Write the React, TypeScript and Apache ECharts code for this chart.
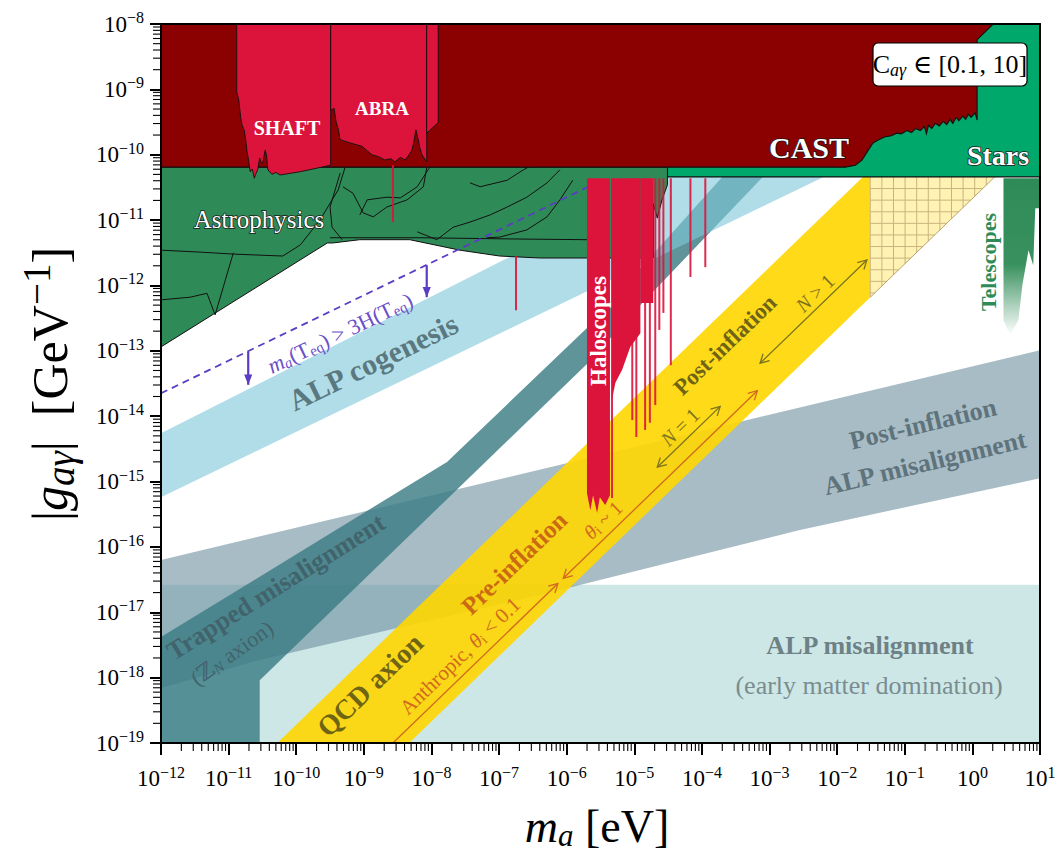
import React, { useEffect, useRef } from "react";
import * as echarts from "echarts";

type P = [number, number];

// ---------- axes (log10 units) ----------
const X_MIN = -12;
const X_MAX = 1;
const Y_MIN = -19;
const Y_MAX = -8;

// ---------- regions: [log10(m_a / eV), log10(|g| / GeV^-1)] ----------
const CAST_REGION: P[] = [
  [-12, -8], [0.31, -8], [0.07, -8.24], [0.07, -9.47], [0.04, -9.36], [-0.02, -9.43], [-0.06, -9.38],
  [-0.1, -9.46], [-0.14, -9.41], [-0.2, -9.48], [-0.24, -9.43], [-0.29, -9.52], [-0.33, -9.46], [-0.38, -9.54],
  [-0.43, -9.49], [-0.49, -9.56], [-0.55, -9.52], [-0.6, -9.6], [-0.65, -9.55], [-0.68, -9.68], [-0.71, -9.57],
  [-0.77, -9.63], [-0.84, -9.6], [-0.9, -9.66], [-0.97, -9.63], [-1.05, -9.68], [-1.12, -9.67], [-1.2, -9.71],
  [-1.3, -9.73], [-1.4, -9.78], [-1.47, -9.82], [-1.54, -9.93], [-1.63, -10.08], [-1.73, -10.16],
  [-1.88, -10.19], [-12, -10.19],
];
const STARS_REGION: P[] = [[-4.51, -8], [1, -8], [1, -10.34], [-4.51, -10.34]];
const ASTRO_REGION: P[] = [
  [-12, -10.19], [-4.51, -10.19], [-4.51, -10.46], [-4.59, -10.69], [-4.66, -10.97], [-4.72, -10.75],
  [-4.72, -11.58], [-5.7, -11.58], [-6.39, -11.58], [-6.99, -11.55], [-7.58, -11.46], [-8.32, -11.3],
  [-9.06, -11.3], [-9.46, -11.35], [-9.54, -11.35], [-12, -12.94],
];
const ASTRO_LINES: P[][] = [
  [[-12, -11.46], [-11.42, -11.49], [-10.93, -11.52], [-10.2, -11.55], [-9.94, -11.38], [-9.65, -11.0], [-9.38, -10.54], [-9.28, -10.2]],
  [[-12, -12.22], [-11.57, -12.18], [-11.32, -12.12], [-11.2, -12.45], [-10.93, -11.5]],
  [[-9.5, -11.27], [-8.17, -11.27], [-6.69, -11.29], [-5.7, -11.3]],
  [[-9.35, -10.28], [-9.5, -10.8], [-9.47, -11.11], [-9.32, -11.3]],
  [[-9.31, -10.49], [-9.16, -10.59], [-9.01, -10.89], [-8.86, -10.95], [-8.66, -10.8], [-8.36, -10.69], [-8.12, -10.49], [-8.07, -10.2]],
  [[-9.06, -10.92], [-8.95, -10.69], [-8.66, -10.65], [-8.46, -10.66], [-8.21, -10.49], [-8.05, -10.23], [-8.02, -10.19]],
  [[-8.21, -11.18], [-7.92, -11.3], [-7.68, -11.11], [-7.43, -11.03], [-7.13, -10.92], [-6.88, -10.8], [-6.59, -10.65], [-6.29, -10.43], [-6.1, -10.23]],
  [[-7.43, -10.43], [-7.28, -10.49], [-6.88, -10.39], [-6.64, -10.23], [-6.44, -10.12]],
  [[-5.91, -10.39], [-6.1, -10.69], [-6.29, -10.95], [-6.59, -11.15], [-6.99, -11.26], [-7.18, -11.27]],
];
const SHAFT_REGION: P[] = [
  [-10.88, -8], [-9.49, -8], [-9.49, -10.16], [-9.94, -10.26], [-10.24, -10.31], [-10.3, -10.27], [-10.36, -10.3],
  [-10.42, -10.23], [-10.44, -10.0], [-10.46, -9.93], [-10.49, -10.1], [-10.51, -10.14], [-10.54, -10.05], [-10.57, -10.23],
  [-10.6, -10.3], [-10.62, -10.36], [-10.65, -10.22], [-10.68, -10.26], [-10.71, -10.05], [-10.73, -9.93],
  [-10.75, -9.75], [-10.77, -9.62], [-10.8, -9.55], [-10.82, -9.44], [-10.85, -9.16], [-10.88, -9.04],
];
const ABRA_REGION: P[] = [
  [-9.49, -8], [-8.07, -8], [-8.07, -10.11], [-8.11, -10.05], [-8.14, -10.0], [-8.17, -9.9], [-8.2, -9.75], [-8.23, -9.62],
  [-8.26, -9.8], [-8.29, -9.93], [-8.33, -10.0], [-8.39, -10.08], [-8.46, -10.04], [-8.54, -10.11], [-8.6, -10.06],
  [-8.69, -10.08], [-8.78, -10.03], [-8.88, -10.0], [-9.03, -9.87], [-9.2, -9.82], [-9.35, -9.77], [-9.38, -9.6],
  [-9.41, -9.5], [-9.44, -9.29], [-9.49, -9.32],
];
const ABRA_EDGE: P[] = [[-8.07, -8], [-7.9, -8], [-7.9, -9.51], [-8.07, -9.67]];
const HALO_STRIPS: P[][] = [
  [[-5.7, -10.36], [-5.36, -10.36], [-5.36, -15.21], [-5.43, -15.36], [-5.51, -15.24], [-5.55, -15.48], [-5.61, -15.21], [-5.65, -15.44], [-5.7, -15.18]],
  [[-5.33, -10.36], [-4.91, -10.36], [-4.91, -12.73], [-5.06, -12.94], [-5.18, -13.29], [-5.28, -13.49], [-5.33, -13.75]],
  [[-4.91, -10.36], [-4.72, -10.36], [-4.72, -12.27], [-4.91, -12.27]],
];
// [mass, top coupling, bottom coupling]
const HALO_LINES: [number, number, number][] = [
  [-8.57, -10.16, -11.03], [-6.75, -11.55, -12.38], [-5.33, -10.36, -15.25], [-5.03, -10.36, -14.06],
  [-4.97, -10.36, -14.32], [-4.84, -10.36, -14.21], [-4.77, -10.36, -14.1], [-4.69, -10.36, -13.83],
  [-4.63, -10.36, -12.68], [-4.57, -10.36, -12.42], [-4.46, -10.36, -13.22], [-4.17, -10.36, -11.87],
  [-3.95, -10.36, -11.72],
];
const TELESCOPES: P[] = [
  [0.46, -10.36], [1, -10.36], [1, -10.82], [0.93, -10.82], [0.9, -11.69], [0.83, -11.46], [0.74, -11.99],
  [0.68, -12.53], [0.56, -12.76], [0.46, -12.53], [0.46, -11.46],
];
const EMD_BOX: P[] = [[-12, -16.58], [1, -16.58], [1, -19], [-12, -19]];
const POST_ALP_BAND: P[] = [
  [-12, -16.2], [1, -12.99], [1, -14.95], [-2.55, -15.74], [-6.1, -16.66], [-10.54, -17.73], [-12, -18.16],
];
const COGENESIS_BAND: P[] = [[-12, -14.26], [-4.5, -10.34], [-2.2, -10.34], [-12, -15.24]];
const TRAPPED_BAND: P[] = [
  [-12, -17.38], [-7.77, -14.7], [-5.7, -12.65], [-3.7, -10.34], [-3.1, -10.34], [-4.91, -12.3],
  [-5.7, -13.2], [-10.54, -18.04], [-10.54, -19], [-12, -19],
];
const QCD_BAND: P[] = [[-10.28, -19], [-1.62, -10.34], [-1.51, -10.34], [-1.51, -12.18], [-8.33, -19]];
const QCD_HATCH: P[] = [[-1.51, -10.34], [0.33, -10.34], [-1.51, -12.18]];
const TEQ_LINE: P[] = [[-12, -13.65], [-5.7, -10.5]];
const TEQ_ARROWS: P[][] = [
  [[-10.71, -13.01], [-10.71, -13.52]],
  [[-8.07, -11.69], [-8.07, -12.18]],
];
const ANTHROPIC_ARROW: P[] = [[-8.57, -19.0], [-6.13, -16.56]];
const THETA1_ARROW: P[] = [[-6.05, -16.48], [-3.18, -13.61]];
const N1_ARROW: P[] = [[-4.66, -14.78], [-3.73, -13.85]];
const NGT1_ARROW: P[] = [[-3.14, -13.19], [-1.56, -11.61]];

const SERIF = "'Liberation Serif','DejaVu Serif',serif";

const base = (z: number, clip = true) => ({
  type: "custom" as const,
  coordinateSystem: "cartesian2d",
  xAxisIndex: 0,
  yAxisIndex: 0,
  silent: true,
  clip,
  z,
  data: [[X_MIN, Y_MIN]],
});

const polySeries = (polys: P[][], style: any, z: number) => ({
  ...base(z),
  renderItem: (_p: any, api: any) => ({
    type: "group",
    children: polys.map((pts) => ({
      type: "polygon",
      shape: { points: pts.map((p) => api.coord(p)) },
      style,
    })),
  }),
});

const lineSeries = (lines: P[][], style: any, z: number) => ({
  ...base(z),
  renderItem: (_p: any, api: any) => ({
    type: "group",
    children: lines.map((pts) => ({
      type: "polyline",
      shape: { points: pts.map((p) => api.coord(p)) },
      style: { fill: "none", ...style },
    })),
  }),
});

function headEl(tip: number[], from: number[], size: number, color: string, lw: number, filled: boolean) {
  const dx = tip[0] - from[0];
  const dy = tip[1] - from[1];
  const L = Math.hypot(dx, dy) || 1;
  const ux = dx / L;
  const uy = dy / L;
  const a = filled ? 0.38 : 0.5;
  const c = Math.cos(a);
  const s = Math.sin(a);
  const p1 = [tip[0] + size * (-ux * c + uy * s), tip[1] + size * (-ux * s - uy * c)];
  const p2 = [tip[0] + size * (-ux * c - uy * s), tip[1] + size * (ux * s - uy * c)];
  return filled
    ? { type: "polygon", shape: { points: [p1, tip, p2] }, style: { fill: color } }
    : { type: "polyline", shape: { points: [p1, tip, p2] }, style: { stroke: color, lineWidth: lw, fill: "none" } };
}

const arrowSeries = (
  arrows: P[][], color: string, lw: number, start: boolean, end: boolean, size: number, filled: boolean, z: number
) => ({
  ...base(z),
  renderItem: (_p: any, api: any) => {
    const children: any[] = [];
    arrows.forEach((pts) => {
      const a = api.coord(pts[0]);
      const b = api.coord(pts[1]);
      children.push({ type: "line", shape: { x1: a[0], y1: a[1], x2: b[0], y2: b[1] }, style: { stroke: color, lineWidth: lw } });
      if (end) children.push(headEl(b, a, size, color, lw, filled));
      if (start) children.push(headEl(a, b, size, color, lw, filled));
    });
    return { type: "group", children };
  },
});

const hatchSeries = (z: number) => ({
  ...base(z),
  renderItem: (_p: any, api: any) => {
    const A = api.coord(QCD_HATCH[0]);
    const B = api.coord(QCD_HATCH[1]);
    const C = api.coord(QCD_HATCH[2]);
    const step = 11.6;
    const children: any[] = [
      { type: "polygon", shape: { points: [A, B, C] }, style: { fill: "#FFF2B3" } },
    ];
    const ls = { stroke: "#C9B47E", lineWidth: 1 };
    for (let x = A[0]; x < B[0] - 0.5; x += step) {
      const yEnd = A[1] + ((C[1] - A[1]) * (B[0] - x)) / (B[0] - A[0]);
      children.push({ type: "line", shape: { x1: x, y1: A[1], x2: x, y2: yEnd }, style: ls });
    }
    for (let y = A[1] + step; y < C[1] - 0.5; y += step) {
      const xEnd = B[0] - ((B[0] - A[0]) * (y - A[1])) / (C[1] - A[1]);
      children.push({ type: "line", shape: { x1: A[0], y1: y, x2: xEnd, y2: y }, style: ls });
    }
    children.push({ type: "line", shape: { x1: B[0], y1: B[1], x2: C[0], y2: C[1] }, style: { stroke: "#B8A36E", lineWidth: 1 } });
    return { type: "group", children };
  },
});

const haloLineSeries = (z: number) => ({
  ...base(z),
  renderItem: (_p: any, api: any) => ({
    type: "group",
    children: HALO_LINES.map(([m, top, bot]) => {
      const a = api.coord([m, top]);
      const b = api.coord([m, bot]);
      return {
        type: "line",
        shape: { x1: a[0], y1: a[1], x2: b[0], y2: b[1] },
        style: { stroke: "rgba(220,20,60,0.9)", lineWidth: 2 },
      };
    }),
  }),
});

const minorX: number[] = [];
for (let d = X_MIN; d < X_MAX; d++) for (let k = 2; k <= 9; k++) minorX.push(d + Math.log10(k));
const minorY: number[] = [];
for (let d = Y_MIN; d < Y_MAX; d++) for (let k = 2; k <= 9; k++) minorY.push(d + Math.log10(k));

const minorTickSeries = () => [
  {
    type: "custom",
    coordinateSystem: "cartesian2d",
    silent: true,
    clip: false,
    z: 60,
    data: minorX.map((v) => [v, Y_MIN]),
    renderItem: (_p: any, api: any) => {
      const c = api.coord([api.value(0), Y_MIN]);
      return { type: "line", shape: { x1: c[0], y1: c[1], x2: c[0], y2: c[1] + 8 }, style: { stroke: "#000", lineWidth: 1.1 } };
    },
  },
  {
    type: "custom",
    coordinateSystem: "cartesian2d",
    silent: true,
    clip: false,
    z: 60,
    data: minorY.map((v) => [X_MIN, v]),
    renderItem: (_p: any, api: any) => {
      const c = api.coord([X_MIN, api.value(1)]);
      return { type: "line", shape: { x1: c[0] - 8, y1: c[1], x2: c[0], y2: c[1] }, style: { stroke: "#000", lineWidth: 1.1 } };
    },
  },
];

const fmtPow = (v: number) => `10{s|${v < 0 ? "−" : ""}${Math.abs(v)}}`;

type TxtOpt = {
  size: number;
  color: string;
  bold?: boolean;
  rot?: number;
  stroke?: string;
  lw?: number;
  sub?: number;
};
const txt = (x: number, y: number, text: string, o: TxtOpt) => {
  const ss = Math.round(o.size * (o.sub || 0.68));
  return {
    type: "text",
    x,
    y,
    rotation: ((o.rot || 0) * Math.PI) / 180,
    z: 100,
    silent: true,
    style: {
      text,
      x: 0,
      y: 0,
      align: "center",
      verticalAlign: "middle",
      fontFamily: SERIF,
      fontSize: o.size,
      fontWeight: o.bold ? "bold" : "normal",
      fill: o.color,
      stroke: o.stroke,
      lineWidth: o.lw || 0,
      rich: {
        i: { fontStyle: "italic", fontSize: o.size, fontFamily: SERIF, fill: o.color, fontWeight: o.bold ? "bold" : "normal" },
        s: { fontSize: ss, fontStyle: "italic", fontFamily: SERIF, fill: o.color, padding: [Math.round(o.size * 0.42), 0, 0, 0] },
        r: { fontSize: ss, fontFamily: SERIF, fill: o.color, padding: [Math.round(o.size * 0.42), 0, 0, 0] },
        p: { fontSize: ss, fontFamily: SERIF, fill: o.color, padding: [0, 0, Math.round(o.size * 0.55), 0] },
      },
    },
  };
};

export default function App() {
  const ref = useRef<HTMLDivElement>(null);
  useEffect(() => {
    if (!ref.current) return;
    const chart = echarts.init(ref.current, null, { renderer: "svg" });

    const axisLabel = {
      fontFamily: SERIF,
      fontSize: 23,
      color: "#000",
      formatter: (v: number) => fmtPow(Math.round(v)),
      rich: { s: { fontFamily: SERIF, fontSize: 16, color: "#000", padding: [0, 0, 13, 0] } },
    };

    const option: any = {
      animation: false,
      backgroundColor: "#fff",
      grid: { left: 161, right: 24, top: 24, bottom: 115, containLabel: false },
      xAxis: [
        {
          type: "value", min: X_MIN, max: X_MAX, interval: 1, position: "bottom", z: 50,
          axisLine: { show: true, onZero: false, lineStyle: { color: "#000", width: 2 } },
          axisTick: { show: true, length: 12, lineStyle: { color: "#000", width: 2 } },
          splitLine: { show: false },
          axisLabel: { ...axisLabel, margin: 21 },
        },
        {
          type: "value", min: X_MIN, max: X_MAX, position: "top", z: 50,
          axisLine: { show: true, onZero: false, lineStyle: { color: "#000", width: 2 } },
          axisTick: { show: false }, axisLabel: { show: false }, splitLine: { show: false },
        },
      ],
      yAxis: [
        {
          type: "value", min: Y_MIN, max: Y_MAX, interval: 1, position: "left", z: 50,
          axisLine: { show: true, onZero: false, lineStyle: { color: "#000", width: 2 } },
          axisTick: { show: true, length: 11, lineStyle: { color: "#000", width: 2 } },
          splitLine: { show: false },
          axisLabel: { ...axisLabel, margin: 17 },
        },
        {
          type: "value", min: Y_MIN, max: Y_MAX, position: "right", z: 50,
          axisLine: { show: true, onZero: false, lineStyle: { color: "#000", width: 2 } },
          axisTick: { show: false }, axisLabel: { show: false }, splitLine: { show: false },
        },
      ],
      series: [
        polySeries([EMD_BOX], { fill: "rgba(150,205,205,0.48)" }, 1),
        polySeries([POST_ALP_BAND], { fill: "rgba(105,140,155,0.58)" }, 2),
        polySeries([TRAPPED_BAND], { fill: "rgba(60,125,133,0.82)" }, 3),
        polySeries([COGENESIS_BAND], { fill: "rgba(128,200,216,0.62)" }, 4),
        polySeries([QCD_BAND], { fill: "rgba(255,214,0,0.9)" }, 5),
        hatchSeries(6),
        polySeries([STARS_REGION], { fill: "#00A86B", stroke: "#111", lineWidth: 1.2 }, 8),
        polySeries([ASTRO_REGION], { fill: "#2E8B57", stroke: "#111", lineWidth: 1 }, 9),
        lineSeries(ASTRO_LINES, { stroke: "#111", lineWidth: 1 }, 10),
        lineSeries([TEQ_LINE], { stroke: "#5B3CC4", lineWidth: 1.8, lineDash: [7, 5] }, 11),
        arrowSeries(TEQ_ARROWS, "#5B3CC4", 2.2, false, true, 11, true, 11),
        polySeries([CAST_REGION], { fill: "#8B0000", stroke: "#111", lineWidth: 1.1 }, 12),
        polySeries([SHAFT_REGION, ABRA_REGION, ABRA_EDGE], { fill: "#DC143C", stroke: "#111", lineWidth: 0.9 }, 13),
        polySeries(HALO_STRIPS, { fill: "#DC143C" }, 13),
        haloLineSeries(14),
        polySeries(
          [TELESCOPES],
          {
            fill: new echarts.graphic.LinearGradient(0, 0, 0, 1, [
              { offset: 0, color: "rgba(46,139,87,1)" },
              { offset: 0.55, color: "rgba(46,139,87,0.95)" },
              { offset: 1, color: "rgba(46,139,87,0)" },
            ]),
          },
          14
        ),
        arrowSeries([ANTHROPIC_ARROW], "#D2691E", 1.3, false, true, 10, false, 15),
        arrowSeries([THETA1_ARROW], "#D2691E", 1.3, true, true, 10, false, 15),
        arrowSeries([N1_ARROW, NGT1_ARROW], "#7A7420", 1.3, true, true, 10, false, 15),
        ...minorTickSeries(),
      ],
      graphic: [
        txt(287, 128, "SHAFT", { size: 20, color: "#fff", bold: true }),
        txt(382, 108, "ABRA", { size: 19, color: "#fff", bold: true }),
        txt(809, 147, "CAST", { size: 30, color: "#fff", bold: true, stroke: "#1a1a1a", lw: 1.5 }),
        txt(998, 155, "Stars", { size: 28, color: "#fff", bold: true, stroke: "#1a1a1a", lw: 1.5 }),
        txt(259, 219, "Astrophysics", { size: 25, color: "#fff", stroke: "#1a1a1a", lw: 1.5 }),
        txt(598, 331, "Haloscopes", { size: 23, color: "#fff", bold: true, rot: 90 }),
        txt(988, 262, "Telescopes", { size: 22, color: "#2E8B57", bold: true, rot: 90 }),
        txt(373, 362, "ALP cogenesis", { size: 30, color: "#5B7880", bold: true, rot: 26 }),
        txt(340, 333, "{i|m}{s|a}(T{r|eq}) > 3H(T{r|eq})", { size: 22, color: "#6A4FC8", rot: 25.6 }),
        txt(276, 587, "Trapped misalignment", { size: 26, color: "#41636B", bold: true, rot: 32 }),
        txt(232, 653, "(ℤ{s|N} axion)", { size: 22, color: "#41636B", rot: 35 }),
        txt(370, 685, "QCD axion", { size: 28, color: "#6E6414", bold: true, rot: 44 }),
        txt(514, 563, "Pre-inflation", { size: 25, color: "#CC6A14", bold: true, rot: 44 }),
        txt(460, 656, "Anthropic, {i|θ}{r|i} < 0.1", { size: 21, color: "#D2691E", rot: 44 }),
        txt(603, 520, "{i|θ}{r|i} ~ 1", { size: 20, color: "#D2691E", rot: 44 }),
        txt(725, 345, "Post-inflation", { size: 23, color: "#6E6414", bold: true, rot: 44 }),
        txt(680, 427, "{i|N} = 1", { size: 20, color: "#7A7420", rot: 44 }),
        txt(815, 293, "{i|N} > 1", { size: 20, color: "#7A7420", rot: 44 }),
        txt(923, 424, "Post-inflation", { size: 26, color: "#5E737B", bold: true, rot: 13.4 }),
        txt(925, 463, "ALP misalignment", { size: 26, color: "#5E737B", bold: true, rot: 13.4 }),
        txt(870, 645, "ALP misalignment", { size: 26, color: "#6E8186", bold: true }),
        txt(869, 685, "(early matter domination)", { size: 26, color: "#7A8C90" }),
        {
          type: "rect",
          z: 100,
          shape: { x: 873, y: 43, width: 154, height: 43, r: 5 },
          style: { fill: "#fff", stroke: "#000", lineWidth: 1.2 },
        },
        txt(950, 64, "C{s|aγ} ∈ [0.1, 10]", { size: 26, color: "#000" }),
        txt(597, 826, "{i|m}{s|a} [eV]", { size: 46, color: "#000" }),
        txt(50, 384, "|{i|g}{s|aγ}|  [GeV{p|−1}]", { size: 50, color: "#000", rot: 90, sub: 0.78 }),
      ],
    };
    chart.setOption(option);
    return () => chart.dispose();
  }, []);

  return (
    <div
      ref={ref}
      style={{ position: "fixed", left: 0, top: 0, width: 1064, height: 858, background: "#fff" }}
    />
  );
}
